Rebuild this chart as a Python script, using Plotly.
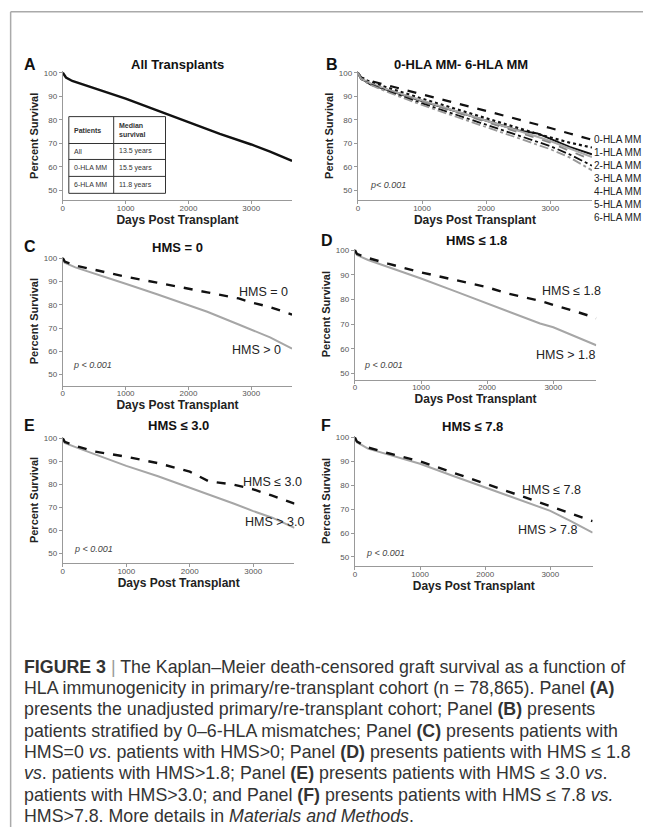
import plotly.graph_objects as go

# page is 651x835; the html body has an 8px margin, so the figure is shifted by 8px
OFF = 8
W, H = 651 - 2 * OFF, 835 - 2 * OFF
FONT = "Liberation Sans, Arial, Helvetica, sans-serif"

# ---------------- data ----------------
days_a = [0, 50, 150, 500, 1000, 1500, 2000, 2500, 3000, 3300, 3650]
surv_all = [100, 98, 96.5, 93.3, 89, 84, 79, 74, 69.5, 66.5, 62.5]

days_b = [0, 50, 200, 500, 1000, 1500, 2000, 2500, 2800, 3000, 3300, 3650]
hla_names = ["0-HLA MM", "1-HLA MM", "2-HLA MM", "3-HLA MM", "4-HLA MM", "5-HLA MM", "6-HLA MM"]
hla0 = [100, 98.0, 96.5, 94.3, 90.8, 87.3, 83.8, 80.3, 78.2, 76.5, 74.2, 71.5]
hla1 = [100, 97.8, 96.0, 93.3, 89.0, 84.8, 80.5, 76.5, 74.0, 72.5, 70.3, 68.2]
hla2 = [100, 97.5, 95.0, 92.5, 88.0, 83.8, 79.5, 75.5, 74.2, 72.0, 68.5, 65.3]
hla3 = [100, 97.5, 95.5, 92.5, 88.2, 84.0, 79.5, 75.3, 72.8, 71.0, 67.8, 64.2]
hla4 = [100, 97.5, 95.3, 92.2, 87.8, 83.5, 79.0, 74.8, 72.0, 70.3, 66.8, 63.0]
hla5 = [100, 97.3, 95.0, 91.8, 87.0, 82.5, 78.0, 73.5, 70.8, 68.8, 65.3, 60.5]
hla6 = [100, 97.3, 94.8, 91.4, 86.3, 81.6, 77.0, 72.3, 69.5, 67.5, 64.0, 58.5]

days_c = [0, 30, 200, 500, 1000, 1500, 2000, 2300, 2800, 3000, 3300, 3650]
hms0_le = [100, 98.5, 96.8, 95.0, 92.0, 89.5, 86.7, 85.3, 82.7, 81.0, 79.0, 75.8]
hms0_gt = [100, 98.0, 96.0, 93.5, 89.0, 84.5, 80.0, 77.0, 71.5, 69.3, 66.0, 61.2]
hms18_le = [100, 98.5, 96.8, 94.5, 91.0, 88.0, 85.0, 82.5, 79.5, 77.8, 75.5, 72.5]
hms18_gt = [100, 98.0, 96.0, 93.3, 88.5, 83.5, 78.5, 75.5, 70.3, 68.8, 65.5, 61.5]

days_e = [0, 30, 200, 500, 1000, 1500, 2000, 2300, 2700, 3000, 3300, 3650]
hms30_le = [100, 98.5, 96.7, 94.3, 92.0, 89.2, 85.5, 81.3, 79.8, 77.8, 75.0, 71.5]
hms30_gt = [100, 98.0, 96.2, 93.0, 88.0, 83.5, 78.6, 75.5, 71.5, 68.3, 65.4, 61.0]

days_f = [0, 30, 200, 500, 1000, 1500, 2000, 2500, 3000, 3300, 3650]
hms78_le = [100, 98.3, 95.8, 93.5, 90.0, 85.5, 80.7, 76.0, 71.3, 68.5, 65.0]
hms78_gt = [100, 98.0, 95.3, 93.0, 89.0, 84.0, 79.0, 74.2, 69.3, 65.2, 60.2]

table_rows = [["Patients", "Median<br>survival"], ["All", "13.5 years"],
              ["0-HLA MM", "15.5 years"], ["6-HLA MM", "11.8 years"]]

x_ticks = [0, 1000, 2000, 3000]
y_ticks = [50, 60, 70, 80, 90, 100]


def fx(px):
    return (px - OFF) / W


def fy(py):
    return 1 - (py - OFF) / H


# name: (page px of day 0, px of day 3000, px of 100%, px of 50%, px of x-axis line)
panels = {
    "A": (61, 250, 70, 188, 198),
    "B": (357, 550, 70, 188, 198),
    "C": (61, 250, 256, 373, 384),
    "D": (354, 553, 248, 372, 378),
    "E": (61, 252, 437, 552, 562),
    "F": (354, 550, 436, 556, 565),
}
order = ["A", "B", "C", "D", "E", "F"]

fig = go.Figure()
layout = dict(width=W, height=H, margin=dict(l=0, r=0, t=0, b=0),
              paper_bgcolor="white", plot_bgcolor="white", showlegend=False,
              font=dict(family=FONT, color="#222"))

XMAX = 3650
for i, p in enumerate(order):
    px0, px3k, py100, py50, pyax = panels[p]
    ppd = (px3k - px0) / 3000.0
    right = px0 + XMAX * ppd
    ppu = (py50 - py100) / 50.0
    top = py100 - 0.6 * ppu
    ybot = 50 - (pyax - py50) / ppu
    sfx = "" if i == 0 else str(i + 1)
    layout["xaxis" + sfx] = dict(
        domain=[fx(px0), fx(right)], range=[0, XMAX], anchor="y" + sfx,
        tickvals=x_ticks, ticks="outside", ticklen=3, tickcolor="#999",
        showline=True, linecolor="#999", linewidth=1.2, showgrid=False, zeroline=False,
        tickfont=dict(size=8, color="#555"), ticklabelstandoff=-3,
        title=dict(text="<b>Days Post Transplant</b>", font=dict(size=12, color="#222"), standoff=0),
    )
    layout["yaxis" + sfx] = dict(
        domain=[fy(pyax), fy(top)], range=[ybot, 100.6], anchor="x" + sfx,
        tickvals=y_ticks, ticks="outside", ticklen=3, tickcolor="#999",
        showline=True, linecolor="#999", linewidth=1.2, showgrid=False, zeroline=False,
        tickfont=dict(size=8, color="#555"),
        title=dict(text="<b>Percent Survival</b>", font=dict(size=11, color="#222"), standoff=2),
    )


def ax(i):
    return ("x" if i == 0 else "x%d" % (i + 1)), ("y" if i == 0 else "y%d" % (i + 1))


def add(i, xs, ys, color, dash, width):
    xa, ya = ax(i)
    fig.add_trace(go.Scatter(x=xs, y=ys, mode="lines", xaxis=xa, yaxis=ya,
                             line=dict(color=color, dash=dash, width=width), hoverinfo="skip"))


# A
add(0, days_a, surv_all, "#111", "solid", 2.4)
# B
b_series = [hla0, hla1, hla2, hla3, hla4, hla5, hla6]
b_styles = [("#111", "dash", 2.2), ("#111", "dot", 2.2), ("#111", "solid", 2.0),
            ("#aaa", "solid", 2.0), ("#888", "dash", 1.8), ("#111", "dashdot", 1.8),
            ("#999", "dashdot", 1.8)]
for s, (c, d, w) in zip(b_series, b_styles):
    add(1, days_b, s, c, d, w)
# C-F
add(2, days_c, hms0_gt, "#a6a6a6", "solid", 2.0)
add(2, days_c, hms0_le, "#111", "dash", 2.4)
add(3, days_c, hms18_gt, "#a6a6a6", "solid", 2.0)
add(3, days_c, hms18_le, "#111", "dash", 2.4)
add(4, days_e, hms30_gt, "#a6a6a6", "solid", 2.0)
add(4, days_e, hms30_le, "#111", "dash", 2.4)
add(5, days_f, hms78_gt, "#a6a6a6", "solid", 2.0)
add(5, days_f, hms78_le, "#111", "dash", 2.4)

ann = []


def paper_text(x, y, text, size, bold=False, xanchor="center", color="#111"):
    t = "<b>" + text + "</b>" if bold else text
    ann.append(dict(x=fx(x), y=fy(y), xref="paper", yref="paper", text=t, showarrow=False,
                    xanchor=xanchor, yanchor="middle", font=dict(size=size, color=color, family=FONT)))


letters = [("A", 28, 62), ("B", 331, 62), ("C", 28, 244), ("D", 326, 238), ("E", 28, 424), ("F", 325, 424)]
for l, x, y in letters:
    paper_text(x, y, l, 16, bold=True)
titles = [("All Transplants", 176, 62), ("0-HLA MM- 6-HLA MM", 460, 62), ("HMS = 0", 176, 245),
          ("HMS ≤ 1.8", 476, 238), ("HMS ≤ 3.0", 177, 424), ("HMS ≤ 7.8", 472, 425)]
for t, x, y in titles:
    paper_text(x, y, t, 13, bold=True)

for k, n in enumerate(hla_names):
    paper_text(592, 137 + 13 * k, n, 10, xanchor="left", color="#222")


def data_text(i, x, y, text, size=12.5, italic=False, xanchor="center", color="#222"):
    xa, ya = ax(i)
    t = "<i>" + text + "</i>" if italic else text
    ann.append(dict(x=x, y=y, xref=xa, yref=ya, text=t, showarrow=False, xanchor=xanchor,
                    yanchor="middle", font=dict(size=size, color=color, family=FONT)))


data_text(2, 3200, 85.6, "HMS = 0")
data_text(2, 3080, 60.4, "HMS > 0")
data_text(3, 3270, 83.3, "HMS ≤ 1.8")
data_text(3, 3180, 57.6, "HMS > 1.8")
data_text(4, 3310, 81.0, "HMS ≤ 3.0")
data_text(4, 3330, 63.5, "HMS > 3.0")
data_text(5, 3020, 77.9, "HMS ≤ 7.8")
data_text(5, 2960, 61.2, "HMS > 7.8")
pv = [(1, 150, 52.2, "p< 0.001"), (2, 130, 54.0, "p < 0.001"), (3, 100, 53.6, "p < 0.001"),
      (4, 140, 51.7, "p < 0.001"), (5, 140, 51.7, "p < 0.001")]
for i, x, y, t in pv:
    data_text(i, x, y, t, size=9, italic=True, xanchor="left", color="#444")

# table in panel A
tx = [67, 112, 164]
ty = [114, 141, 157, 174, 191]
shapes = []
for x in tx:
    shapes.append(dict(type="line", xref="paper", yref="paper", x0=fx(x), x1=fx(x),
                       y0=fy(ty[0]), y1=fy(ty[-1]), line=dict(color="#333", width=1)))
for y in ty:
    shapes.append(dict(type="line", xref="paper", yref="paper", x0=fx(tx[0]), x1=fx(tx[-1]),
                       y0=fy(y), y1=fy(y), line=dict(color="#333", width=1)))
for r, row in enumerate(table_rows):
    yc = (ty[r] + ty[r + 1]) / 2
    for c, cell in enumerate(row):
        t = "<b>" + cell + "</b>" if r == 0 else cell
        ann.append(dict(x=fx(tx[c] + 3), y=fy(yc), xref="paper", yref="paper", text=t,
                        showarrow=False, xanchor="left", yanchor="middle", align="left",
                        font=dict(size=7, color="#333", family=FONT)))

# frame lines (top and left)
shapes.append(dict(type="line", xref="paper", yref="paper", x0=0.001, x1=1, y0=0.999, y1=0.999,
                   line=dict(color="#aaa", width=1.5)))
shapes.append(dict(type="line", xref="paper", yref="paper", x0=0.001, x1=0.001, y0=0, y1=0.999,
                   line=dict(color="#aaa", width=1.5)))

caption = [
    "<b>FIGURE 3</b> <span style='color:#999'>|</span> The Kaplan–Meier death-censored graft survival as a function of",
    "HLA immunogenicity in primary/re-transplant cohort (n = 78,865). Panel <b>(A)</b>",
    "presents the unadjusted primary/re-transplant cohort; Panel <b>(B)</b> presents",
    "patients stratified by 0–6-HLA mismatches; Panel <b>(C)</b> presents patients with",
    "HMS=0 <i>vs</i>. patients with HMS>0; Panel <b>(D)</b> presents patients with HMS ≤ 1.8",
    "<i>vs</i>. patients with HMS>1.8; Panel <b>(E)</b> presents patients with HMS ≤ 3.0 <i>vs</i>.",
    "patients with HMS>3.0; and Panel <b>(F)</b> presents patients with HMS ≤ 7.8 <i>vs.</i>",
    "HMS>7.8. More details in <i>Materials and Methods</i>.",
]
for k, line in enumerate(caption):
    ann.append(dict(x=fx(20), y=fy(666 + 21.4 * k), xref="paper", yref="paper", text=line,
                    showarrow=False, xanchor="left", yanchor="middle",
                    font=dict(size=17.8, color="#333", family=FONT)))

layout["annotations"] = ann
layout["shapes"] = shapes
fig.update_layout(**layout)
fig.write_html("out.html")
